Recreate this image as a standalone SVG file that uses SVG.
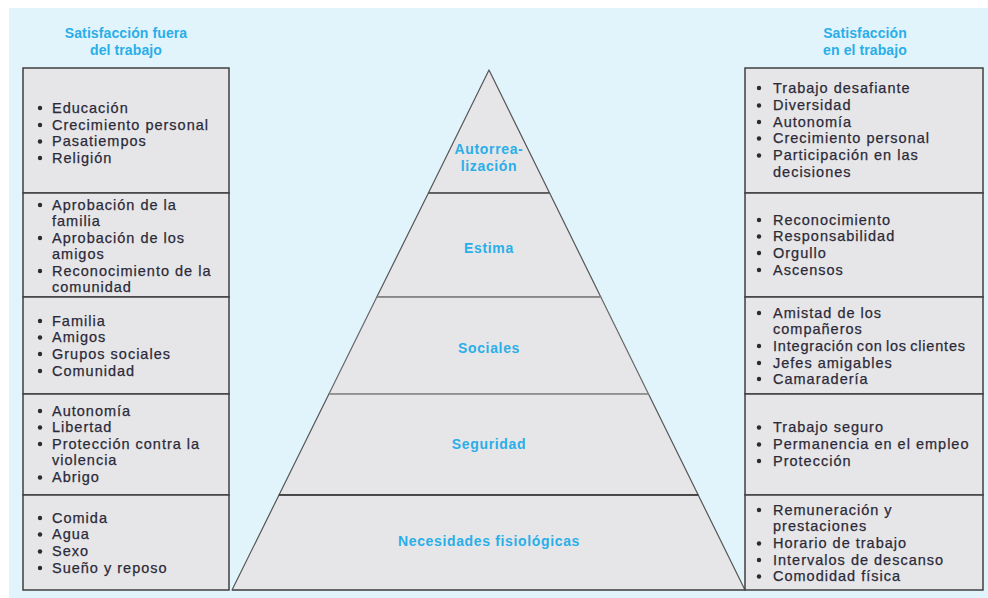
<svg xmlns="http://www.w3.org/2000/svg" width="988" height="598" viewBox="0 0 988 598">
<style>
.bg{fill:#e1f4fc}
.box{fill:#e6e6e8;stroke:#3f3f3f;stroke-width:1.5}
.lvl{fill:#e6e6e8;stroke:#555;stroke-width:1.2;stroke-linejoin:round}
.t{font-family:"Liberation Sans",Arial,sans-serif;font-size:14.5px;letter-spacing:1px;fill:#2c2a38;stroke:#2c2a38;stroke-width:0.25}
.h{font-family:"Liberation Sans",Arial,sans-serif;font-size:14px;font-weight:bold;letter-spacing:0.1px;fill:#2aaee8;text-anchor:middle}
.lab{font-family:"Liberation Sans",Arial,sans-serif;font-size:14px;font-weight:bold;letter-spacing:0.65px;fill:#2aaee8;text-anchor:middle}
.b{fill:#2c2a2a}
</style>
<rect class="bg" x="9" y="8" width="979" height="590"/>

<g id="header-left">
<text class="h" x="126" y="38">Satisfacción fuera</text>
<text class="h" x="126" y="55">del trabajo</text>
</g>
<g id="header-right">
<text class="h" x="865" y="38">Satisfacción</text>
<text class="h" x="865" y="55">en el trabajo</text>
</g>

<g id="pyramid">
<g id="lvl-autorrealizacion">
<polygon class="lvl" points="489,70 549.6,193 428.4,193"/>
<text class="lab" x="489" y="154">Autorrea-</text>
<text class="lab" x="489" y="171">lización</text>
</g>
<g id="lvl-estima">
<polygon class="lvl" points="428.4,193 549.6,193 600.8,297 376.8,297"/>
<text class="lab" x="489" y="253">Estima</text>
</g>
<g id="lvl-sociales">
<polygon class="lvl" points="376.8,297 600.8,297 648.5,394 328.9,394" style="stroke:#666"/>
<text class="lab" x="489" y="353">Sociales</text>
</g>
<g id="lvl-seguridad">
<polygon class="lvl" points="328.9,394 648.5,394 698.2,495 279,495"/>
<text class="lab" x="489" y="449">Seguridad</text>
</g>
<g id="lvl-fisiologicas">
<polygon class="lvl" points="279,495 698.2,495 745,590 232,590"/>
<text class="lab" x="489" y="546">Necesidades fisiológicas</text>
</g>
<line x1="428.4" y1="193" x2="549.6" y2="193" stroke="#555" stroke-width="1.4"/>
<line x1="376.8" y1="297" x2="600.8" y2="297" stroke="#8a8a8a" stroke-width="1.4"/>
<line x1="328.9" y1="394" x2="648.5" y2="394" stroke="#999" stroke-width="1.4"/>
<line x1="279" y1="495" x2="698.2" y2="495" stroke="#333" stroke-width="1.4"/>
<line x1="232" y1="590" x2="745" y2="590" stroke="#555" stroke-width="1.4"/>
</g>

<g id="left-column">
<g id="left-1">
<rect class="box" x="23" y="68" width="206" height="125"/>
<circle class="b" cx="40" cy="108" r="2.2"/><text class="t" x="52" y="112.5">Educación</text>
<circle class="b" cx="40" cy="125" r="2.2"/><text class="t" x="52" y="129.5">Crecimiento personal</text>
<circle class="b" cx="40" cy="141.5" r="2.2"/><text class="t" x="52" y="146">Pasatiempos</text>
<circle class="b" cx="40" cy="158" r="2.2"/><text class="t" x="52" y="162.5">Religión</text>
</g>
<g id="left-2">
<rect class="box" x="23" y="193" width="206" height="104"/>
<circle class="b" cx="40" cy="205" r="2.2"/><text class="t" x="52" y="209.5">Aprobación de la</text>
<text class="t" x="52" y="226">familia</text>
<circle class="b" cx="40" cy="238" r="2.2"/><text class="t" x="52" y="242.5">Aprobación de los</text>
<text class="t" x="52" y="259">amigos</text>
<circle class="b" cx="40" cy="271" r="2.2"/><text class="t" x="52" y="275.5">Reconocimiento de la</text>
<text class="t" x="52" y="292">comunidad</text>
</g>
<g id="left-3">
<rect class="box" x="23" y="297" width="206" height="97"/>
<circle class="b" cx="40" cy="321" r="2.2"/><text class="t" x="52" y="325.5">Familia</text>
<circle class="b" cx="40" cy="337.5" r="2.2"/><text class="t" x="52" y="342">Amigos</text>
<circle class="b" cx="40" cy="354" r="2.2"/><text class="t" x="52" y="358.5">Grupos sociales</text>
<circle class="b" cx="40" cy="371" r="2.2"/><text class="t" x="52" y="375.5">Comunidad</text>
</g>
<g id="left-4">
<rect class="box" x="23" y="394" width="206" height="101"/>
<circle class="b" cx="40" cy="411" r="2.2"/><text class="t" x="52" y="415.5">Autonomía</text>
<circle class="b" cx="40" cy="427.5" r="2.2"/><text class="t" x="52" y="432">Libertad</text>
<circle class="b" cx="40" cy="444" r="2.2"/><text class="t" x="52" y="448.5">Protección contra la</text>
<text class="t" x="52" y="465">violencia</text>
<circle class="b" cx="40" cy="477.5" r="2.2"/><text class="t" x="52" y="482">Abrigo</text>
</g>
<g id="left-5">
<rect class="box" x="23" y="495" width="206" height="95"/>
<circle class="b" cx="40" cy="518" r="2.2"/><text class="t" x="52" y="522.5">Comida</text>
<circle class="b" cx="40" cy="534.5" r="2.2"/><text class="t" x="52" y="539">Agua</text>
<circle class="b" cx="40" cy="551.5" r="2.2"/><text class="t" x="52" y="556">Sexo</text>
<circle class="b" cx="40" cy="568" r="2.2"/><text class="t" x="52" y="572.5">Sueño y reposo</text>
</g>
</g>

<g id="right-column">
<g id="right-1">
<rect class="box" x="745" y="68" width="238" height="125"/>
<circle class="b" cx="759" cy="88" r="2.2"/><text class="t" x="773" y="92.5">Trabajo desafiante</text>
<circle class="b" cx="759" cy="105.5" r="2.2"/><text class="t" x="773" y="110">Diversidad</text>
<circle class="b" cx="759" cy="122" r="2.2"/><text class="t" x="773" y="126.5">Autonomía</text>
<circle class="b" cx="759" cy="138.5" r="2.2"/><text class="t" x="773" y="143">Crecimiento personal</text>
<circle class="b" cx="759" cy="155.5" r="2.2"/><text class="t" x="773" y="160">Participación en las</text>
<text class="t" x="773" y="177">decisiones</text>
</g>
<g id="right-2">
<rect class="box" x="745" y="193" width="238" height="104"/>
<circle class="b" cx="759" cy="220" r="2.2"/><text class="t" x="773" y="224.5">Reconocimiento</text>
<circle class="b" cx="759" cy="236.5" r="2.2"/><text class="t" x="773" y="241">Responsabilidad</text>
<circle class="b" cx="759" cy="253" r="2.2"/><text class="t" x="773" y="257.5">Orgullo</text>
<circle class="b" cx="759" cy="270" r="2.2"/><text class="t" x="773" y="274.5">Ascensos</text>
</g>
<g id="right-3">
<rect class="box" x="745" y="297" width="238" height="97"/>
<circle class="b" cx="759" cy="313" r="2.2"/><text class="t" x="773" y="317.5">Amistad de los</text>
<text class="t" x="773" y="334">compañeros</text>
<circle class="b" cx="759" cy="346" r="2.2"/><text class="t" x="773" y="350.5" style="letter-spacing:0.8px;word-spacing:-1.5px">Integración con los clientes</text>
<circle class="b" cx="759" cy="363" r="2.2"/><text class="t" x="773" y="367.5">Jefes amigables</text>
<circle class="b" cx="759" cy="379" r="2.2"/><text class="t" x="773" y="383.5">Camaradería</text>
</g>
<g id="right-4">
<rect class="box" x="745" y="394" width="238" height="101"/>
<circle class="b" cx="759" cy="427.5" r="2.2"/><text class="t" x="773" y="432">Trabajo seguro</text>
<circle class="b" cx="759" cy="444.5" r="2.2"/><text class="t" x="773" y="449">Permanencia en el empleo</text>
<circle class="b" cx="759" cy="461" r="2.2"/><text class="t" x="773" y="465.5">Protección</text>
</g>
<g id="right-5">
<rect class="box" x="745" y="495" width="238" height="95"/>
<circle class="b" cx="759" cy="510" r="2.2"/><text class="t" x="773" y="514.5">Remuneración y</text>
<text class="t" x="773" y="531">prestaciones</text>
<circle class="b" cx="759" cy="543.5" r="2.2"/><text class="t" x="773" y="548">Horario de trabajo</text>
<circle class="b" cx="759" cy="560" r="2.2"/><text class="t" x="773" y="564.5">Intervalos de descanso</text>
<circle class="b" cx="759" cy="576.5" r="2.2"/><text class="t" x="773" y="581">Comodidad física</text>
</g>
</g>
<g id="connectors"/>
</svg>
